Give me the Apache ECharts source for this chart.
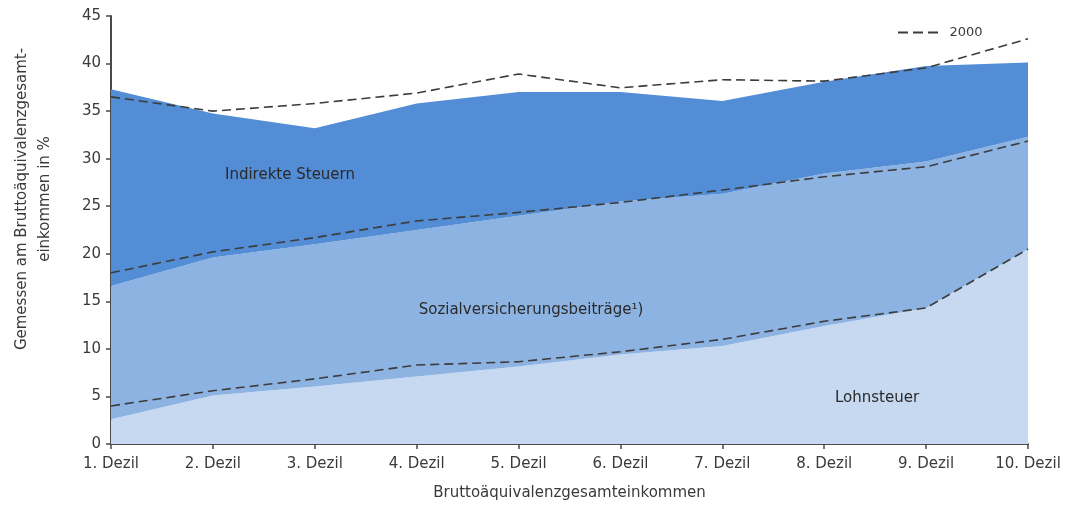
<!DOCTYPE html>
<html>
<head>
<meta charset="utf-8">
<script src="https://cdn.jsdelivr.net/npm/echarts@6/dist/echarts.min.js"></script>
<style>html,body{margin:0;padding:0;background:#fff;}#c{width:1066px;height:507px;}</style>
</head>
<body>
<div id="c"></div>
<script>
// Categories
const categories = ['1. Dezil','2. Dezil','3. Dezil','4. Dezil','5. Dezil','6. Dezil','7. Dezil','8. Dezil','9. Dezil','10. Dezil'];
// Current year components (in % of Bruttoäquivalenzgesamteinkommen)
const lohnsteuer = [2.6, 5.1, 6.05, 7.1, 8.15, 9.4, 10.3, 12.4, 14.3, 20.5];
const sozialversicherung = [14.0, 14.5, 14.95, 15.4, 15.85, 16.1, 16.0, 16.05, 15.4, 11.8];
const indirekteSteuern = [20.7, 15.15, 12.2, 13.3, 13.0, 11.5, 9.75, 9.65, 10.05, 7.8];
// Year 2000 components (drawn as stacked dashed lines)
const lohnsteuer2000 = [4.0, 5.6, 6.85, 8.3, 8.65, 9.7, 11.0, 12.9, 14.3, 20.5];
const sozialversicherung2000 = [14.0, 14.6, 14.85, 15.15, 15.7, 15.7, 15.7, 15.2, 14.85, 11.35];
const indirekteSteuern2000 = [18.5, 14.8, 14.1, 13.45, 14.55, 12.05, 11.6, 10.05, 10.4, 10.75];
// Axis ticks
const yMin = 0, yMax = 45, yInterval = 5;

const font = 'DejaVu Sans';
const txt = '#3a3a3a';
const axisCol = '#4a4a4a';
const dashCol = '#3c3c3c';

const chart = echarts.init(document.getElementById('c'), null, {renderer: 'canvas'});

function areaSeries(name, data, color) {
  return {
    name: name, type: 'line', stack: 'now', data: data,
    symbol: 'none', smooth: false,
    lineStyle: {width: 0, color: color},
    itemStyle: {color: color},
    areaStyle: {color: color, opacity: 1},
    emphasis: {disabled: true},
    z: 2
  };
}
function dashSeries(data) {
  return {
    name: '2000', type: 'line', stack: 'y2000', data: data,
    symbol: 'none', smooth: false,
    lineStyle: {width: 1.6, color: dashCol, type: [9, 5]},
    itemStyle: {color: dashCol},
    emphasis: {disabled: true},
    z: 5
  };
}

chart.setOption({
  animation: false,
  backgroundColor: '#ffffff',
  grid: {left: 111, right: 38, top: 16, bottom: 63},
  legend: {
    data: [{name: '2000', icon: 'path://M0,0h10v2h-10z M15,0h10v2h-10z M30,0h10v2h-10z'}],
    left: 893, top: 21,
    itemWidth: 41, itemHeight: 2,
    itemStyle: {color: dashCol},
    textStyle: {fontFamily: font, fontSize: 13, color: txt, padding: [0, 0, 0, 6]}
  },
  xAxis: {
    type: 'category', data: categories, boundaryGap: false,
    axisLine: {show: true, lineStyle: {color: axisCol, width: 2}},
    axisTick: {show: true, length: 5, lineStyle: {color: axisCol, width: 1.5}},
    axisLabel: {fontFamily: font, fontSize: 15, color: txt, margin: 13},
    splitLine: {show: false},
    name: 'Bruttoäquivalenzgesamteinkommen', nameLocation: 'middle', nameGap: 42,
    nameTextStyle: {fontFamily: font, fontSize: 15, color: txt}
  },
  yAxis: {
    type: 'value', min: yMin, max: yMax, interval: yInterval,
    axisLine: {show: true, lineStyle: {color: axisCol, width: 2}},
    axisTick: {show: true, length: 5, lineStyle: {color: axisCol, width: 1.5}},
    axisLabel: {fontFamily: font, fontSize: 15, color: txt, margin: 10},
    splitLine: {show: false}
  },
  graphic: [
    {type: 'text', x: 22, y: 199, rotation: Math.PI / 2,
     style: {text: 'Gemessen am Bruttoäquivalenzgesamt-', fontFamily: font, fontSize: 15, fill: txt, textAlign: 'center', textVerticalAlign: 'middle'}},
    {type: 'text', x: 45, y: 199, rotation: Math.PI / 2,
     style: {text: 'einkommen in %', fontFamily: font, fontSize: 15, fill: txt, textAlign: 'center', textVerticalAlign: 'middle'}},
    {type: 'text', x: 290, y: 175, z: 10,
     style: {text: 'Indirekte Steuern', fontFamily: font, fontSize: 15, fill: '#2a2a2a', textAlign: 'center', textVerticalAlign: 'middle'}},
    {type: 'text', x: 531, y: 310, z: 10,
     style: {text: 'Sozialversicherungsbeiträge¹)', fontFamily: font, fontSize: 15, fill: '#2a2a2a', textAlign: 'center', textVerticalAlign: 'middle'}},
    {type: 'text', x: 877, y: 398, z: 10,
     style: {text: 'Lohnsteuer', fontFamily: font, fontSize: 15, fill: '#2a2a2a', textAlign: 'center', textVerticalAlign: 'middle'}}
  ],
  series: [
    areaSeries('Lohnsteuer', lohnsteuer, '#c6d9f1'),
    areaSeries('Sozialversicherungsbeiträge', sozialversicherung, '#8db3e2'),
    areaSeries('Indirekte Steuern', indirekteSteuern, '#538dd5'),
    dashSeries(lohnsteuer2000),
    dashSeries(sozialversicherung2000),
    dashSeries(indirekteSteuern2000)
  ]
});
</script>
</body>
</html>
